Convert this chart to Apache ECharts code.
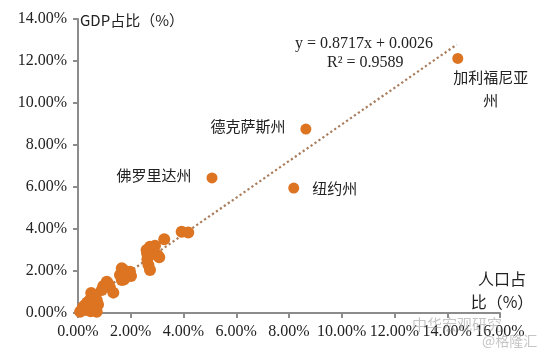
<!DOCTYPE html>
<html>
<head>
<meta charset="utf-8">
<script src="https://cdn.jsdelivr.net/npm/echarts@6/dist/echarts.min.js"></script>
<style>
  html, body { margin: 0; padding: 0; background: #fff; }
  #chart { width: 542px; height: 353px; }
</style>
</head>
<body>
<div id="chart"></div>
<script>
// 人口占比 (x, %) / GDP占比 (y, %)
const namedStates = ['加利福尼亚州', '德克萨斯州', '纽约州', '佛罗里达州']
const namedPop = [14.40, 8.64, 8.18, 5.08]
const namedGdp = [12.12, 8.76, 5.95, 6.43]

const otherPop = [4.18, 3.93, 3.27, 2.92, 2.80, 2.73, 2.60, 2.62, 3.08, 3.02, 2.63, 2.67, 2.73,
  1.97, 1.78, 1.66, 1.75, 1.59, 1.85, 2.01, 1.74, 1.66, 1.09, 1.15, 1.21, 1.34, 0.96, 0.90,
  0.58, 0.64, 0.50, 0.45, 0.71, 0.76, 0.64, 0.71, 0.27, 0.20, 0.39, 0.33, 0.14, 0.08, 0.20, 0.55,
  0.35, 0.48]
const otherGdp = [3.83, 3.87, 3.51, 3.20, 3.12, 3.16, 3.00, 2.85, 2.65, 2.75, 2.56, 2.29, 2.05,
  1.97, 1.89, 2.13, 2.03, 1.81, 1.81, 1.76, 1.60, 1.57, 1.49, 1.38, 1.22, 0.97, 1.29, 1.10,
  0.86, 0.78, 0.95, 0.62, 0.62, 0.40, 0.14, 0.06, 0.38, 0.30, 0.22, 0.14, 0.14, 0.06, 0.24, 0.30,
  0.50, 0.08]

// 趋势线端点 y = 0.8717x + 0.0026
const trendPop = [0.00, 14.36]
const trendGdp = [0.26, 12.78]

const xTicks = ['0.00%', '2.00%', '4.00%', '6.00%', '8.00%', '10.00%', '12.00%', '14.00%', '16.00%']
const yTicks = ['0.00%', '2.00%', '4.00%', '6.00%', '8.00%', '10.00%', '12.00%', '14.00%']

const dotColor = '#dc7422'
const axisColor = '#8c8c8c'
const serif = 'Liberation Serif'
const cjk = 'Noto Sans CJK SC'

const labelCfg = [
  { position: 'bottom', offset: [33, -3], align: 'center', lineHeight: 23, formatter: '加利福尼亚\n州' },
  { position: 'left', distance: 15, offset: [0, -3] },
  { position: 'right', distance: 13, offset: [0, 0] },
  { position: 'left', distance: 15, offset: [0, -3] }
]

const namedData = namedStates.map((n, i) => ({
  name: n,
  value: [namedPop[i] / 100, namedGdp[i] / 100],
  label: Object.assign({ show: true, formatter: '{b}', color: '#222', fontFamily: cjk, fontSize: 15 }, labelCfg[i])
}))
const otherData = otherPop.map((x, i) => [x / 100, otherGdp[i] / 100])
const trendData = trendPop.map((x, i) => [x / 100, trendGdp[i] / 100])

const chart = echarts.init(document.getElementById('chart'))
chart.setOption({
  animation: false,
  backgroundColor: '#fff',
  grid: { left: 78, right: 42, top: 19, bottom: 40 },
  xAxis: {
    type: 'value',
    min: 0,
    max: 0.16,
    interval: 0.02,
    splitLine: { show: false },
    axisLine: { lineStyle: { color: axisColor, width: 2 } },
    axisTick: { show: true, length: 5, lineStyle: { color: axisColor, width: 2 } },
    axisLabel: {
      margin: 11,
      color: '#222',
      fontFamily: serif,
      fontSize: 16,
      formatter: v => xTicks[Math.round(v / 0.02)]
    },
    name: '人口占\n比（%）',
    nameLocation: 'end',
    nameGap: 2,
    nameTextStyle: {
      color: '#222', fontFamily: cjk, fontSize: 16, lineHeight: 23,
      align: 'center', verticalAlign: 'bottom'
    }
  },
  yAxis: {
    type: 'value',
    min: 0,
    max: 0.14,
    interval: 0.02,
    splitLine: { show: false },
    axisLine: { show: true, lineStyle: { color: axisColor, width: 2 } },
    axisTick: { show: true, length: 5, lineStyle: { color: axisColor, width: 2 } },
    axisLabel: {
      margin: 11,
      color: '#222',
      fontFamily: serif,
      fontSize: 16,
      formatter: v => yTicks[Math.round(v / 0.02)]
    },
    name: 'GDP占比（%）',
    nameLocation: 'end',
    nameGap: -1,
    nameTextStyle: {
      color: '#222', fontFamily: cjk, fontSize: 15,
      align: 'left', verticalAlign: 'middle', padding: [0, 0, 0, 2]
    }
  },
  graphic: [
    {
      type: 'text', left: 295, top: 36,
      style: { text: 'y = 0.8717x + 0.0026', fill: '#222', font: '16px "Liberation Serif"' }
    },
    {
      type: 'text', left: 327, top: 55,
      style: { text: 'R² = 0.9589', fill: '#222', font: '16px "Liberation Serif"' }
    },
    {
      type: 'text', left: 412, top: 317, z: 100,
      style: { text: '中华宏观研究', fill: 'rgba(150,150,150,0.55)', font: '15px "Noto Sans CJK SC"' }
    },
    {
      type: 'text', left: 482, top: 334, z: 100,
      style: { text: '@格隆汇', fill: 'rgba(150,150,150,0.55)', font: '14px "Noto Sans CJK SC"' }
    }
  ],
  series: [
    {
      name: '趋势线',
      type: 'line',
      data: trendData,
      symbol: 'none',
      z: 1,
      lineStyle: { color: '#a87c5c', width: 2.2, type: [2.2, 2.6] }
    },
    {
      name: '其他州',
      type: 'scatter',
      data: otherData,
      symbolSize: 12,
      z: 2,
      itemStyle: { color: dotColor, opacity: 1 }
    },
    {
      name: '主要州',
      type: 'scatter',
      data: namedData,
      symbolSize: 11,
      z: 3,
      itemStyle: { color: dotColor, opacity: 1 }
    }
  ]
})
</script>
</body>
</html>
